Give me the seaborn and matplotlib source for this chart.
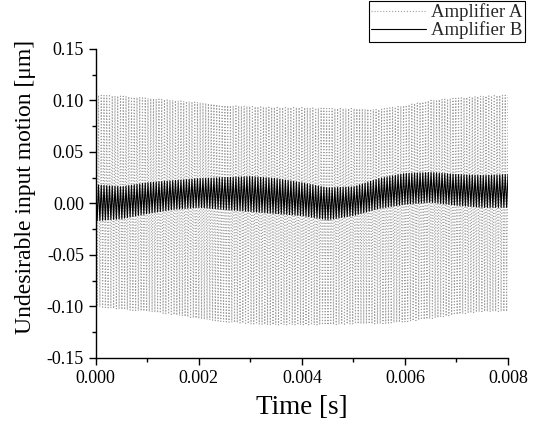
import matplotlib

matplotlib.use("Agg")
import matplotlib.pyplot as plt
import numpy as np
import pandas as pd
import seaborn as sns
from matplotlib.ticker import FormatStrFormatter, MultipleLocator

# envelope knots (time in s, motion in um)
knot_time = [0.0000, 0.0005, 0.0010, 0.0015, 0.0020, 0.0025, 0.0030, 0.0035, 0.0040,
             0.0045, 0.0050, 0.0055, 0.0060, 0.0065, 0.0070, 0.0075, 0.0080]
amp_a_upper = [0.105, 0.104, 0.102, 0.100, 0.098, 0.095, 0.094, 0.093, 0.093,
               0.092, 0.092, 0.091, 0.095, 0.100, 0.102, 0.104, 0.105]
amp_a_lower = [-0.100, -0.103, -0.105, -0.108, -0.112, -0.115, -0.117, -0.118, -0.118,
               -0.118, -0.117, -0.117, -0.115, -0.112, -0.108, -0.105, -0.105]
amp_b_upper = [0.018, 0.016, 0.020, 0.022, 0.024, 0.025, 0.026, 0.024, 0.020,
               0.015, 0.016, 0.024, 0.029, 0.030, 0.028, 0.027, 0.028]
amp_b_lower = [-0.017, -0.015, -0.010, -0.006, -0.004, -0.006, -0.008, -0.010, -0.012,
               -0.016, -0.012, -0.005, -0.001, 0.001, -0.002, -0.004, -0.004]
cycles = 150
series_names = ["Amplifier A", "Amplifier B"]


def peak_trace(upper: list[float], lower: list[float]) -> pd.DataFrame:
    # one value per half cycle, alternating between the read envelopes
    t = np.linspace(knot_time[0], knot_time[-1], 2 * cycles + 1)
    hi = np.interp(t, knot_time, upper)
    lo = np.interp(t, knot_time, lower)
    y = np.where(np.arange(t.size) % 2 == 0, hi, lo)
    return pd.DataFrame({"time": t, "motion": y})


def main() -> None:
    sns.set_theme(style="ticks")
    plt.rcParams["font.family"] = ["Liberation Serif", "DejaVu Serif"]
    plt.rcParams["axes.unicode_minus"] = False

    fig = plt.figure(figsize=(5.41, 4.24), dpi=100)
    ax = fig.add_axes([0.177, 0.156, 0.762, 0.729])

    trace_a = peak_trace(amp_a_upper, amp_a_lower)
    trace_b = peak_trace(amp_b_upper, amp_b_lower)
    sns.lineplot(data=trace_a, x="time", y="motion", ax=ax, sort=False, estimator=None,
                 color="0.62", linestyle=":", linewidth=0.8, label=series_names[0])
    sns.lineplot(data=trace_b, x="time", y="motion", ax=ax, sort=False, estimator=None,
                 color="black", linestyle="-", linewidth=0.8, label=series_names[1])

    ax.set_xlim(0, 0.008)
    ax.set_ylim(-0.15, 0.15)
    ax.xaxis.set_major_locator(MultipleLocator(0.002))
    ax.xaxis.set_minor_locator(MultipleLocator(0.001))
    ax.yaxis.set_major_locator(MultipleLocator(0.05))
    ax.yaxis.set_minor_locator(MultipleLocator(0.025))
    ax.xaxis.set_major_formatter(FormatStrFormatter("%.3f"))
    ax.yaxis.set_major_formatter(FormatStrFormatter("%.2f"))
    ax.tick_params(which="major", direction="out", length=5, width=1, labelsize=13,
                   color="black", labelcolor="black")
    ax.tick_params(which="minor", direction="out", length=3, width=1, color="black")
    for side in ["top", "right"]:
        ax.spines[side].set_visible(False)
    for side in ["left", "bottom"]:
        ax.spines[side].set_color("black")
        ax.spines[side].set_linewidth(1)

    ax.set_xlabel("Time [s]", fontsize=19.5, color="black", labelpad=6)
    ax.set_ylabel("Undesirable input motion [μm]", fontsize=17, color="black")
    ax.yaxis.set_label_coords(-0.145, 0.553)

    ax.get_legend().remove()
    handles, labels = ax.get_legend_handles_labels()
    leg = fig.legend(handles, labels, loc="upper right", bbox_to_anchor=(0.970, 0.997),
                     fontsize=13.5, frameon=True, fancybox=False, edgecolor="black",
                     framealpha=1, borderpad=0.12, labelspacing=0.0,
                     handlelength=2.9, handletextpad=0.3, borderaxespad=0)
    leg.get_frame().set_linewidth(0.8)

    fig.savefig("out.png", dpi=100)
    plt.close(fig)


if __name__ == "__main__":
    main()
